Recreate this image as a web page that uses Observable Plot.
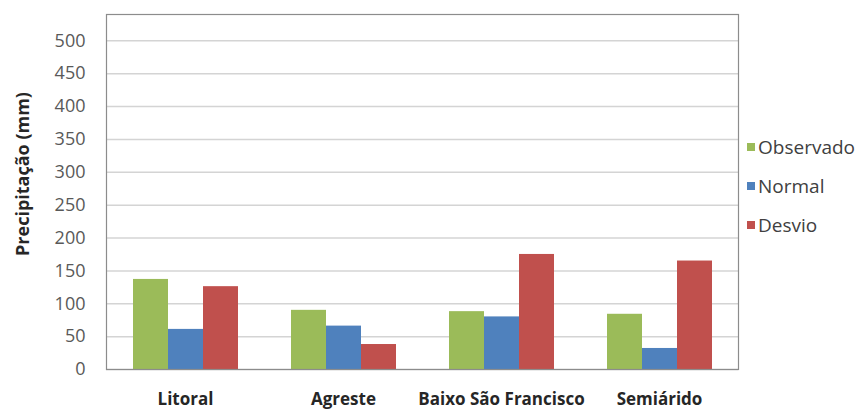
<!DOCTYPE html>
<html>
<head>
<meta charset="utf-8">
<script src="https://cdn.jsdelivr.net/npm/d3@7"></script>
<script src="https://cdn.jsdelivr.net/npm/@observablehq/plot@0.6"></script>
<style>
  html, body { margin: 0; padding: 0; background: #fff; }
  #wrap { position: relative; width: 860px; height: 412px; font-family: "Open Sans", sans-serif; }
  #legend { position: absolute; left: 747px; top: 128px; }
  .item { display: flex; align-items: center; height: 40px; margin-top: -1px; font-size: 19px; color: #404040; }
  .sw { width: 8px; height: 8px; margin-right: 3px; }
  svg g[aria-label="fx-axis tick label"] text { font-weight: bold; fill: #262626; }
</style>
</head>
<body>
<div id="wrap"></div>
<script>
const categories = ["Litoral", "Agreste", "Baixo São Francisco", "Semiárido"];
const series = ["Observado", "Normal", "Desvio"];
const observado = [137, 90, 88, 84];
const normal = [61, 66, 80, 32];
const desvio = [126, 38, 175, 165];
const yTicks = [0, 50, 100, 150, 200, 250, 300, 350, 400, 450, 500];
const colors = ["#9BBB59", "#4F81BD", "#C0504D"];

const valuesBySeries = [observado, normal, desvio];
const data = [];
categories.forEach((c, i) => {
  series.forEach((s, j) => data.push({category: c, series: s, value: valuesBySeries[j][i]}));
});

const chart = Plot.plot({
  width: 860,
  height: 412,
  marginLeft: 104,
  marginRight: 121,
  marginTop: 14,
  marginBottom: 43,
  style: {fontFamily: "Open Sans, sans-serif", background: "#fff"},
  fx: {domain: categories, padding: 0, label: null},
  x: {domain: series, paddingInner: 0, paddingOuter: 0.75, axis: null},
  y: {domain: [0, 540], label: null},
  color: {domain: series, range: colors},
  marks: [
    Plot.gridY(yTicks, {stroke: "#d4d4d4", strokeOpacity: 1, strokeWidth: 1.5}),
    Plot.barY(data, {fx: "category", x: "series", y: "value", fill: "series"}),
    Plot.ruleY([0], {stroke: "#9a9a9a", strokeWidth: 1.2}),
    Plot.frame({facet: "super", stroke: "#8c8c8c", strokeWidth: 1.2}),
    Plot.axisY(yTicks, {tickSize: 0, tickPadding: 21, fontSize: 18, fill: "#595959", label: null}),
    Plot.axisFx({anchor: "bottom", tickSize: 0, tickPadding: 23, fontSize: 17, label: null}),
    Plot.text(["Precipitação (mm)"], {facet: "super", frameAnchor: "left", textAnchor: "middle", rotate: -90, dx: -83, dy: -18, fontSize: 18, fontWeight: "bold", fill: "#262626"})
  ]
});

const wrap = document.getElementById("wrap");
wrap.appendChild(chart);
const legend = document.createElement("div");
legend.id = "legend";
series.forEach((s, j) => {
  const it = document.createElement("div");
  it.className = "item";
  const sw = document.createElement("span");
  sw.className = "sw";
  sw.style.background = colors[j];
  const t = document.createElement("span");
  t.textContent = s;
  it.appendChild(sw);
  it.appendChild(t);
  legend.appendChild(it);
});
wrap.appendChild(legend);
</script>
</body>
</html>
